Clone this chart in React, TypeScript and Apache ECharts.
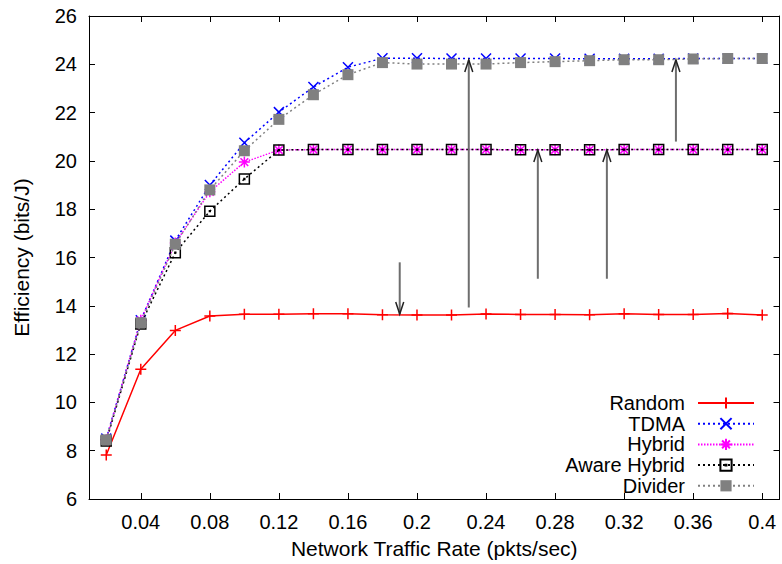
import React, { useEffect, useRef } from "react";
import * as echarts from "echarts";

const xValues = [0.02, 0.04, 0.06, 0.08, 0.1, 0.12, 0.14, 0.16, 0.18, 0.2, 0.22, 0.24, 0.26, 0.28, 0.3, 0.32, 0.34, 0.36, 0.38, 0.4];
const xTicks = [0.04, 0.08, 0.12, 0.16, 0.2, 0.24, 0.28, 0.32, 0.36, 0.4];

const randomValues = [7.82, 11.37, 12.98, 13.58, 13.65, 13.65, 13.67, 13.67, 13.63, 13.62, 13.62, 13.66, 13.64, 13.64, 13.63, 13.67, 13.64, 13.64, 13.68, 13.62];
const tdmaValues = [8.5, 13.4, 16.7, 19.0, 20.75, 22.02, 23.06, 23.88, 24.25, 24.25, 24.24, 24.24, 24.24, 24.24, 24.23, 24.23, 24.23, 24.24, 24.24, 24.24];
const hybridValues = [8.45, 13.4, 16.6, 18.72, 19.95, 20.45, 20.47, 20.47, 20.47, 20.47, 20.47, 20.47, 20.46, 20.46, 20.46, 20.47, 20.47, 20.47, 20.47, 20.47];
const awareHybridValues = [8.4, 13.25, 16.2, 17.92, 19.25, 20.45, 20.47, 20.47, 20.47, 20.47, 20.47, 20.47, 20.46, 20.46, 20.46, 20.47, 20.47, 20.47, 20.47, 20.47];
const dividerValues = [8.45, 13.3, 16.55, 18.8, 20.42, 21.72, 22.74, 23.57, 24.07, 24.01, 24.01, 24.01, 24.07, 24.11, 24.15, 24.19, 24.19, 24.22, 24.24, 24.24];

const arrowX = [0.19, 0.23, 0.27, 0.31, 0.35];
const arrowFrom = [15.8, 13.93, 15.12, 15.12, 20.8];
const arrowTo = [13.66, 24.18, 20.45, 20.45, 24.18];

const seriesNames = ["Random", "TDMA", "Hybrid", "Aware Hybrid", "Divider"];

const FONT = '"Liberation Sans", Arial, Helvetica, sans-serif';

const pairs = (ys: number[]) => xValues.map((x, i) => [x, ys[i]]);

export default function App() {
  const ref = useRef<HTMLDivElement>(null);

  useEffect(() => {
    if (!ref.current) return;
    const chart = echarts.init(ref.current, undefined, { renderer: "svg" });

    const dotted = [2, 3];

    const option: any = {
      animation: false,
      backgroundColor: "#ffffff",
      textStyle: { fontFamily: FONT },
      grid: { left: 89, right: 2.5, top: 16, bottom: 63 },
      legend: {
        data: seriesNames,
        orient: "vertical",
        right: 27,
        top: 393,
        align: "right",
        itemWidth: 56,
        itemHeight: 14,
        itemGap: 0.7,
        padding: 0,
        selectedMode: false,
        textStyle: {
          fontFamily: FONT,
          fontSize: 20,
          color: "#000",
          lineHeight: 20,
          padding: [0, 8, 0, 0],
        },
      },
      xAxis: [
        {
          type: "value",
          min: 0.01,
          max: 0.41,
          position: "bottom",
          name: "Network Traffic Rate (pkts/sec)",
          nameLocation: "middle",
          nameGap: 39,
          nameTextStyle: { fontFamily: FONT, fontSize: 21, color: "#000" },
          axisLine: { show: true, onZero: false, lineStyle: { color: "#000", width: 1 } },
          axisTick: { show: true, inside: true, length: 6, customValues: xTicks, lineStyle: { color: "#000" } },
          axisLabel: { show: true, customValues: xTicks, margin: 13, fontFamily: FONT, fontSize: 20, color: "#000" },
          splitLine: { show: false },
        },
        {
          type: "value",
          min: 0.01,
          max: 0.41,
          position: "top",
          axisLine: { show: true, onZero: false, lineStyle: { color: "#000", width: 1 } },
          axisTick: { show: true, inside: true, length: 6, customValues: xTicks, lineStyle: { color: "#000" } },
          axisLabel: { show: false },
          splitLine: { show: false },
        },
      ],
      yAxis: [
        {
          type: "value",
          min: 6,
          max: 26,
          interval: 2,
          position: "left",
          name: "Efficiency (bits/J)",
          nameLocation: "middle",
          nameGap: 57,
          nameTextStyle: { fontFamily: FONT, fontSize: 21, color: "#000" },
          axisLine: { show: true, onZero: false, lineStyle: { color: "#000", width: 1 } },
          axisTick: { show: true, inside: true, length: 6, lineStyle: { color: "#000" } },
          axisLabel: { show: true, margin: 12, fontFamily: FONT, fontSize: 20, color: "#000" },
          splitLine: { show: false },
        },
        {
          type: "value",
          min: 6,
          max: 26,
          interval: 2,
          position: "right",
          axisLine: { show: true, onZero: false, lineStyle: { color: "#000", width: 1 } },
          axisTick: { show: true, inside: true, length: 6, lineStyle: { color: "#000" } },
          axisLabel: { show: false },
          splitLine: { show: false },
        },
      ],
      series: [
        {
          name: "Random",
          type: "line",
          data: pairs(randomValues),
          symbol: "path://M0,5 L10,5 M5,0 L5,10",
          symbolSize: 11,
          showSymbol: true,
          lineStyle: { color: "#ff0000", width: 1.5, type: "solid" },
          itemStyle: { color: "#ff0000", borderColor: "#ff0000", borderWidth: 1.5 },
          emphasis: { disabled: true },
          silent: true,
          z: 2,
        },
        {
          name: "TDMA",
          type: "line",
          data: pairs(tdmaValues),
          symbol: "path://M0,0 L10,10 M10,0 L0,10",
          symbolSize: 10,
          showSymbol: true,
          lineStyle: { color: "#0000ff", width: 1.5, type: dotted },
          itemStyle: { color: "#0000ff", borderColor: "#0000ff", borderWidth: 1.5 },
          emphasis: { disabled: true },
          silent: true,
          z: 3,
        },
        {
          name: "Hybrid",
          type: "line",
          data: pairs(hybridValues),
          symbol: "path://M5,0 L5,10 M0,5 L10,5 M1.5,1.5 L8.5,8.5 M8.5,1.5 L1.5,8.5",
          symbolSize: 11,
          showSymbol: true,
          lineStyle: { color: "#ff00ff", width: 1.5, type: [1.5, 1.5] },
          itemStyle: { color: "#ff00ff", borderColor: "#ff00ff", borderWidth: 1.5 },
          emphasis: { disabled: true },
          silent: true,
          z: 4,
        },
        {
          name: "Aware Hybrid",
          type: "line",
          data: pairs(awareHybridValues),
          symbol: "path://M0,0 L10,0 L10,10 L0,10 Z M4.6,4.6 L5.4,4.6 L5.4,5.4 L4.6,5.4 Z",
          symbolSize: 10,
          showSymbol: true,
          lineStyle: { color: "#000000", width: 1.5, type: dotted },
          itemStyle: { color: "rgba(0,0,0,0)", borderColor: "#000000", borderWidth: 1.5 },
          emphasis: { disabled: true },
          silent: true,
          z: 5,
        },
        {
          name: "Divider",
          type: "line",
          data: pairs(dividerValues),
          symbol: "rect",
          symbolSize: 11,
          showSymbol: true,
          lineStyle: { color: "#808080", width: 1.5, type: dotted },
          itemStyle: { color: "#808080" },
          emphasis: { disabled: true },
          silent: true,
          z: 6,
        },
        {
          name: "arrows",
          type: "custom",
          data: arrowX.map((x, i) => [x, arrowFrom[i], arrowTo[i]]),
          encode: { x: 0, y: [1, 2] },
          silent: true,
          z: 10,
          renderItem: (params: any, api: any) => {
            const x = api.value(0);
            const p1 = api.coord([x, api.value(1)]);
            const p2 = api.coord([x, api.value(2)]);
            const dir = p2[1] < p1[1] ? -1 : 1;
            const L = 12;
            const W = 4;
            return {
              type: "group",
              children: [
                {
                  type: "line",
                  shape: { x1: p1[0], y1: p1[1], x2: p2[0], y2: p2[1] },
                  style: { stroke: "#6e6e6e", lineWidth: 2 },
                },
                {
                  type: "polyline",
                  shape: {
                    points: [
                      [p2[0] - W, p2[1] - dir * L],
                      [p2[0], p2[1]],
                      [p2[0] + W, p2[1] - dir * L],
                    ],
                  },
                  style: { stroke: "#222", lineWidth: 1.5, fill: "none" },
                },
              ],
            };
          },
        },
      ],
    };

    chart.setOption(option);
    return () => {
      chart.dispose();
    };
  }, []);

  return (
    <div
      ref={ref}
      style={{ position: "fixed", left: 0, top: 0, width: 782, height: 564, background: "#fff" }}
    />
  );
}
